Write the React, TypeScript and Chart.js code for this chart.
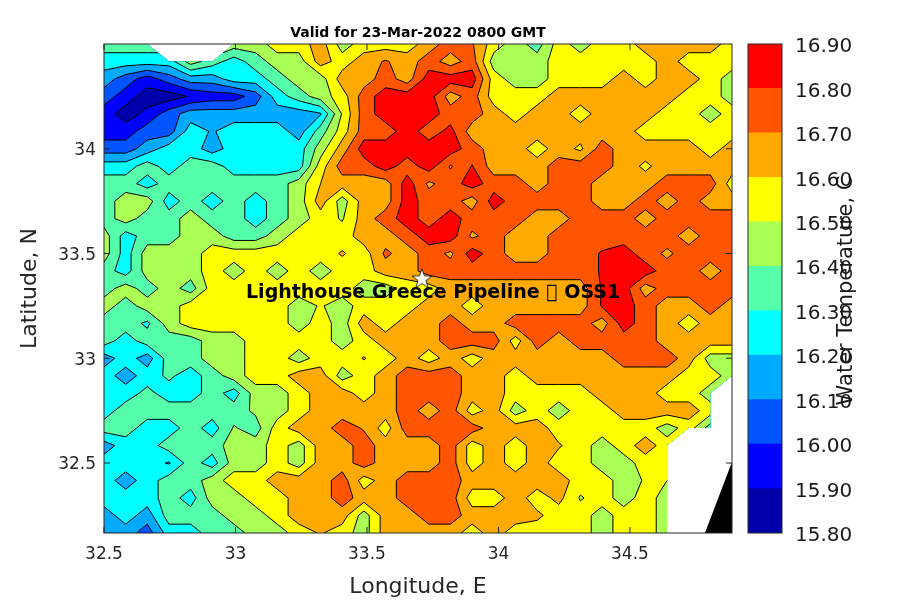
import React, { useEffect, useRef } from "react";
import { Chart, registerables } from "chart.js";

Chart.register(...registerables);

const FONT = "'DejaVu Sans'";
const titleText = "Valid for 23-Mar-2022 0800 GMT";
const siteLabel = "Lighthouse Greece Pipeline \uE000 OSS1";
const cbarLabel = "Water Temperature, C";
const xTicks = [32.5, 33, 33.5, 34, 34.5];
const yTicks = [32.5, 33, 33.5, 34];
const siteLon = 33.709;
const siteLat = 33.38;
const labelLon = 33.04;
const labelLat = 33.31;
const landLon = [34.785, 34.888, 34.888];
const landLat = [32.166, 32.505, 32.166];

const levels = [15.8, 15.9, 16.0, 16.1, 16.2, 16.3, 16.4, 16.5, 16.6, 16.7, 16.8, 16.9];
const bandColors = ["#0000aa", "#0000ff", "#0055ff", "#00aaff", "#00ffff", "#55ffaa", "#aaff55", "#ffff00", "#ffaa00", "#ff5500", "#ff0000"];

const lonGrid = [32.5, 32.5823, 32.6647, 32.747, 32.8294, 32.9117, 32.9941, 33.0764, 33.1588, 33.2411, 33.3234, 33.4058, 33.4881, 33.5705, 33.6528, 33.7352, 33.8175, 33.8999, 33.9822, 34.0646, 34.1469, 34.2292, 34.3116, 34.3939, 34.4763, 34.5586, 34.641, 34.7233, 34.8057, 34.888];
const latGrid = [34.5, 34.4167, 34.3333, 34.25, 34.1667, 34.0833, 34.0, 33.9167, 33.8333, 33.75, 33.6667, 33.5833, 33.5, 33.4167, 33.3333, 33.25, 33.1667, 33.0833, 33.0, 32.9167, 32.8333, 32.75, 32.6667, 32.5833, 32.5, 32.4167, 32.3333, 32.25, 32.1667];

const tempRows: (number | null)[][] = [
  [16.35,16.35,16.35,null,null,null,16.45,16.45,16.55,16.55,16.65,16.45,16.55,16.55,16.55,16.65,16.75,16.71,16.55,16.45,16.35,16.55,16.45,16.55,16.55,16.65,16.65,16.65,16.65,16.55],
  [16.25,16.25,16.25,16.25,16.45,16.35,16.25,16.35,16.45,16.45,16.65,16.55,16.65,16.71,16.65,16.75,16.65,16.75,16.45,16.45,16.45,16.55,16.55,16.55,16.55,16.55,16.65,16.55,16.55,16.55],
  [16.15,16.05,15.95,16.05,16.15,16.15,16.25,16.25,16.35,16.45,16.45,16.65,16.65,16.75,16.65,16.85,16.85,16.85,16.55,16.45,16.45,16.55,16.55,16.55,16.65,16.55,16.65,16.65,16.55,16.45],
  [16.05,15.95,15.85,15.85,15.91,15.95,15.95,16.05,16.25,16.35,16.45,16.55,16.75,16.85,16.85,16.85,16.65,16.75,16.55,16.55,16.55,16.65,16.65,16.65,16.65,16.65,16.65,16.55,16.55,16.45],
  [15.95,15.85,15.93,16.05,16.15,16.15,16.15,16.15,16.15,16.15,16.19,16.51,16.75,16.85,16.85,16.85,16.75,16.75,16.65,16.55,16.65,16.65,16.55,16.65,16.65,16.65,16.55,16.55,16.45,16.55],
  [15.95,15.95,16.05,16.05,16.25,16.19,16.25,16.25,16.25,16.15,16.35,16.55,16.75,16.75,16.85,16.75,16.83,16.65,16.65,16.65,16.65,16.65,16.65,16.65,16.65,16.55,16.55,16.55,16.55,16.55],
  [16.05,16.05,16.15,16.25,16.25,16.15,16.25,16.25,16.25,16.25,16.45,16.65,16.85,16.85,16.85,16.85,16.85,16.75,16.65,16.65,16.55,16.65,16.58,16.75,16.65,16.65,16.65,16.65,16.55,16.65],
  [16.25,16.25,16.35,16.25,16.35,16.35,16.25,16.25,16.25,16.25,16.55,16.75,16.75,16.85,16.75,16.85,16.69,16.805,16.65,16.65,16.65,16.75,16.75,16.75,16.65,16.58,16.65,16.65,16.65,16.65],
  [16.35,16.35,16.25,16.35,16.35,16.35,16.35,16.35,16.35,16.45,16.6,16.65,16.65,16.65,16.85,16.68,16.75,16.85,16.75,16.75,16.65,16.75,16.75,16.65,16.65,16.65,16.75,16.75,16.75,16.55],
  [16.35,16.45,16.45,16.25,16.35,16.25,16.35,16.25,16.35,16.45,16.65,16.45,16.65,16.65,16.85,16.75,16.75,16.65,16.85,16.75,16.75,16.75,16.75,16.65,16.65,16.75,16.65,16.75,16.65,16.65],
  [16.35,16.45,16.35,16.35,16.45,16.35,16.35,16.25,16.35,16.45,16.55,16.49,16.65,16.75,16.85,16.75,16.85,16.75,16.75,16.75,16.65,16.65,16.75,16.75,16.75,16.65,16.75,16.75,16.75,16.75],
  [16.45,16.25,16.35,16.35,16.45,16.45,16.35,16.35,16.45,16.55,16.55,16.55,16.65,16.65,16.75,16.85,16.85,16.68,16.75,16.65,16.65,16.75,16.75,16.75,16.75,16.75,16.75,16.65,16.75,16.75],
  [16.45,16.25,16.45,16.45,16.45,16.55,16.55,16.55,16.55,16.55,16.55,16.61,16.55,16.72,16.65,16.75,16.68,16.85,16.75,16.65,16.65,16.75,16.75,16.81,16.85,16.75,16.68,16.75,16.75,16.75],
  [16.35,16.25,16.45,16.45,16.45,16.55,16.45,16.55,16.45,16.55,16.45,16.55,16.55,16.65,16.65,16.75,16.75,16.75,16.75,16.75,16.75,16.75,16.75,16.81,16.85,16.85,16.75,16.75,16.65,16.75],
  [16.35,16.45,16.35,16.45,16.35,16.55,16.55,16.55,16.55,16.55,16.55,16.55,16.45,16.45,16.55,16.55,16.65,16.65,16.65,16.65,16.65,16.65,16.65,16.81,16.85,16.65,16.75,16.75,16.75,16.75],
  [16.45,16.35,16.45,16.45,16.55,16.55,16.55,16.55,16.55,16.45,16.51,16.45,16.55,16.55,16.55,16.65,16.65,16.55,16.65,16.65,16.65,16.65,16.65,16.81,16.85,16.75,16.65,16.65,16.75,16.65],
  [16.35,16.35,16.28,16.45,16.55,16.55,16.55,16.55,16.55,16.45,16.55,16.45,16.65,16.55,16.65,16.65,16.75,16.65,16.65,16.75,16.75,16.75,16.75,16.65,16.85,16.75,16.65,16.55,16.65,16.65],
  [16.35,16.25,16.35,16.35,16.35,16.45,16.45,16.55,16.55,16.55,16.55,16.45,16.55,16.65,16.65,16.65,16.75,16.75,16.75,16.55,16.75,16.65,16.75,16.75,16.75,16.75,16.65,16.65,16.65,16.65],
  [16.15,16.25,16.15,16.35,16.35,16.45,16.45,16.55,16.55,16.45,16.55,16.55,16.605,16.55,16.65,16.55,16.65,16.55,16.65,16.65,16.65,16.65,16.65,16.65,16.75,16.75,16.75,16.65,16.45,16.45],
  [16.25,16.15,16.25,16.32,16.25,16.35,16.45,16.55,16.55,16.65,16.65,16.45,16.55,16.65,16.75,16.75,16.75,16.65,16.65,16.55,16.65,16.65,16.65,16.65,16.65,16.65,16.65,16.55,16.55,16.45],
  [16.25,16.25,16.33,16.25,16.25,16.35,16.25,16.45,16.45,16.55,16.65,16.65,16.55,16.65,16.75,16.75,16.75,16.65,16.65,16.55,16.55,16.55,16.55,16.65,16.65,16.65,16.55,16.55,16.45,null],
  [16.25,16.35,16.35,16.35,16.35,16.35,16.35,16.42,16.45,16.55,16.65,16.65,16.65,16.65,16.75,16.65,16.75,16.55,16.65,16.45,16.55,16.45,16.55,16.55,16.65,16.65,16.65,16.65,16.55,null],
  [16.35,16.35,16.25,16.25,16.35,16.25,16.41,16.35,16.55,16.65,16.65,16.75,16.69,16.55,16.75,16.75,16.75,16.75,16.65,16.65,16.65,16.55,16.55,16.55,16.55,16.55,16.45,16.55,16.35,null],
  [16.15,16.25,16.25,16.35,16.35,16.35,16.45,16.45,16.55,16.45,16.65,16.65,16.75,16.65,16.65,16.65,16.75,16.55,16.65,16.55,16.65,16.61,16.55,16.45,16.55,16.65,16.55,null,null,null],
  [16.25,16.25,16.25,16.19,16.35,16.25,16.45,16.45,16.55,16.45,16.65,16.65,16.75,16.65,16.65,16.65,16.75,16.55,16.65,16.55,16.65,16.55,16.55,16.45,16.45,16.55,16.55,null,null,null],
  [16.25,16.15,16.25,16.35,16.35,16.45,16.55,16.55,16.65,16.65,16.65,16.75,16.55,16.65,16.75,16.75,16.75,16.65,16.65,16.65,16.65,16.65,16.55,16.55,16.45,16.51,16.5,null,null,null],
  [16.25,16.25,16.25,16.35,16.25,16.45,16.45,16.55,16.55,16.65,16.65,16.75,16.65,16.65,16.75,16.75,16.75,16.55,16.55,16.65,16.55,16.63,16.49,16.55,16.45,16.55,16.45,null,null,null],
  [16.15,16.25,16.15,16.35,16.35,16.35,16.45,16.45,16.55,16.65,16.65,16.65,16.45,16.65,16.65,16.75,16.75,16.65,16.65,16.65,16.62,16.55,16.55,16.45,16.55,16.55,16.45,null,null,null],
  [16.15,16.15,16.05,16.25,16.25,16.35,16.35,16.45,16.45,16.55,16.61,16.55,16.45,16.65,16.65,16.65,16.65,16.55,16.65,16.55,16.55,16.55,16.55,16.45,16.55,16.55,16.45,null,null,null],
];

type Node = { x: number; y: number; v: number };

function cross(a: Node, b: Node, level: number): Node {
  const t = (level - a.v) / (b.v - a.v);
  return { x: a.x + t * (b.x - a.x), y: a.y + t * (b.y - a.y), v: level };
}

function isSaddle(n: Node[], level: number): boolean {
  if (n.length !== 4) return false;
  const s = n.map((p) => p.v >= level);
  return s[0] === s[2] && s[1] === s[3] && s[0] !== s[1];
}

function connected(n: Node[], level: number): boolean {
  return (n[0].v + n[1].v + n[2].v + n[3].v) / 4 >= level - 1e-9;
}

function cellPolygons(nodes: Node[], level: number): Node[][] {
  if (isSaddle(nodes, level) && !connected(nodes, level)) {
    const polys: Node[][] = [];
    for (let i = 0; i < 4; i++) {
      if (nodes[i].v >= level) {
        const prev = nodes[(i + 3) % 4];
        const next = nodes[(i + 1) % 4];
        polys.push([cross(prev, nodes[i], level), nodes[i], cross(nodes[i], next, level)]);
      }
    }
    return polys;
  }
  const out: Node[] = [];
  for (let i = 0; i < nodes.length; i++) {
    const a = nodes[i];
    const b = nodes[(i + 1) % nodes.length];
    const aIn = a.v >= level;
    const bIn = b.v >= level;
    if (aIn) out.push(a);
    if (aIn !== bIn) out.push(cross(a, b, level));
  }
  return out.length >= 3 ? [out] : [];
}

function cellSegments(nodes: Node[], level: number): [Node, Node][] {
  if (isSaddle(nodes, level)) {
    const wantIn = !connected(nodes, level);
    const segs: [Node, Node][] = [];
    for (let i = 0; i < 4; i++) {
      if ((nodes[i].v >= level) === wantIn) {
        const prev = nodes[(i + 3) % 4];
        const next = nodes[(i + 1) % 4];
        segs.push([cross(prev, nodes[i], level), cross(nodes[i], next, level)]);
      }
    }
    return segs;
  }
  const pts: Node[] = [];
  for (let i = 0; i < nodes.length; i++) {
    const a = nodes[i];
    const b = nodes[(i + 1) % nodes.length];
    if ((a.v >= level) !== (b.v >= level)) pts.push(cross(a, b, level));
  }
  return pts.length === 2 ? [[pts[0], pts[1]]] : [];
}

const contourPlugin = {
  id: "contour",
  beforeDatasetsDraw(chart: any) {
    const { ctx, chartArea: area, scales } = chart;
    const cells: Node[][] = [];
    for (let r = 0; r < latGrid.length - 1; r++) {
      for (let c = 0; c < lonGrid.length - 1; c++) {
        const corners: [number, number][] = [[c, r], [c + 1, r], [c + 1, r + 1], [c, r + 1]];
        const nodes: Node[] = [];
        for (const [cc, rr] of corners) {
          const v = tempRows[rr][cc];
          if (v === null) continue;
          nodes.push({ x: scales.x.getPixelForValue(lonGrid[cc]), y: scales.y.getPixelForValue(latGrid[rr]), v });
        }
        if (nodes.length >= 3) cells.push(nodes);
      }
    }
    ctx.save();
    ctx.beginPath();
    ctx.rect(area.left, area.top, area.right - area.left, area.bottom - area.top);
    ctx.clip();
    bandColors.forEach((color, i) => {
      ctx.beginPath();
      for (const cell of cells) {
        for (const poly of cellPolygons(cell, levels[i])) {
          ctx.moveTo(poly[0].x, poly[0].y);
          for (let k = 1; k < poly.length; k++) ctx.lineTo(poly[k].x, poly[k].y);
          ctx.closePath();
        }
      }
      ctx.fillStyle = color;
      ctx.fill();
    });
    ctx.beginPath();
    for (let i = 1; i < bandColors.length; i++) {
      for (const cell of cells) {
        for (const [p, q] of cellSegments(cell, levels[i])) {
          ctx.moveTo(p.x, p.y);
          ctx.lineTo(q.x, q.y);
        }
      }
    }
    ctx.strokeStyle = "#000000";
    ctx.lineWidth = 1;
    ctx.lineJoin = "round";
    ctx.stroke();
    ctx.restore();
  },
  afterDatasetsDraw(chart: any) {
    const { ctx, chartArea: area, scales } = chart;
    ctx.save();
    ctx.font = `bold 19px ${FONT}`;
    ctx.fillStyle = "#000000";
    ctx.textAlign = "left";
    ctx.textBaseline = "middle";
    ctx.fillText(siteLabel, scales.x.getPixelForValue(labelLon), scales.y.getPixelForValue(labelLat));
    ctx.strokeStyle = "#262626";
    ctx.lineWidth = 1;
    ctx.strokeRect(area.left, area.top, area.right - area.left, area.bottom - area.top);
    ctx.beginPath();
    const len = 6;
    for (const v of xTicks) {
      const x = scales.x.getPixelForValue(v);
      ctx.moveTo(x, area.bottom);
      ctx.lineTo(x, area.bottom - len);
      ctx.moveTo(x, area.top);
      ctx.lineTo(x, area.top + len);
    }
    for (const v of yTicks) {
      const y = scales.y.getPixelForValue(v);
      ctx.moveTo(area.left, y);
      ctx.lineTo(area.left + len, y);
      ctx.moveTo(area.right, y);
      ctx.lineTo(area.right - len, y);
    }
    ctx.stroke();
    ctx.restore();
  },
};

const cbarPlugin = {
  id: "cbarFrame",
  afterDatasetsDraw(chart: any) {
    const { ctx, chartArea: area } = chart;
    ctx.save();
    ctx.strokeStyle = "#262626";
    ctx.lineWidth = 1;
    ctx.strokeRect(area.left, area.top, area.right - area.left, area.bottom - area.top);
    ctx.translate(847, (area.top + area.bottom) / 2 + 2);
    ctx.rotate(-Math.PI / 2);
    ctx.font = `21px ${FONT}`;
    ctx.fillStyle = "#1a1a1a";
    ctx.textAlign = "center";
    ctx.textBaseline = "middle";
    ctx.fillText(cbarLabel, 0, 0);
    ctx.restore();
  },
};

function makeStar(): HTMLCanvasElement {
  const c = document.createElement("canvas");
  c.width = 24;
  c.height = 24;
  const g = c.getContext("2d")!;
  g.beginPath();
  for (let i = 0; i < 10; i++) {
    const rad = i % 2 === 0 ? 10.5 : 4.2;
    const ang = -Math.PI / 2 + (i * Math.PI) / 5;
    const px = 12 + rad * Math.cos(ang);
    const py = 12.5 + rad * Math.sin(ang);
    if (i === 0) g.moveTo(px, py);
    else g.lineTo(px, py);
  }
  g.closePath();
  g.fillStyle = "#ffffff";
  g.fill();
  g.strokeStyle = "#000000";
  g.lineWidth = 0.8;
  g.stroke();
  return c;
}

const canvasStyle: React.CSSProperties = { position: "fixed", left: 0, top: 0, width: 900, height: 600 };

export default function App() {
  const mainRef = useRef<HTMLCanvasElement>(null);
  const barRef = useRef<HTMLCanvasElement>(null);

  useEffect(() => {
    const main = new Chart(mainRef.current!, {
      type: "scatter",
      data: {
        datasets: [
          {
            type: "line",
            data: landLon.map((x, i) => ({ x, y: landLat[i] })),
            backgroundColor: "#000000",
            borderColor: "#000000",
            borderWidth: 0,
            pointRadius: 0,
            fill: "start",
            tension: 0,
          },
          {
            data: [{ x: siteLon, y: siteLat }],
            pointStyle: makeStar(),
            pointRadius: 12,
          },
        ],
      } as any,
      options: {
        responsive: false,
        animation: false,
        devicePixelRatio: 1,
        layout: { padding: { left: 0, right: 168, top: 0, bottom: 0 } },
        plugins: {
          legend: { display: false },
          tooltip: { enabled: false },
          title: {
            display: true,
            text: titleText,
            fullSize: false,
            color: "#000000",
            font: { family: FONT, size: 14, weight: "bold", lineHeight: 1.2 },
            padding: { top: 24.6, bottom: 2.6 },
          },
        },
        scales: {
          x: {
            type: "linear",
            min: 32.5,
            max: 34.888,
            afterBuildTicks: (s: any) => { s.ticks = xTicks.map((value) => ({ value })); },
            afterFit: (s: any) => { s.height = 67; },
            grid: { display: false, drawTicks: false },
            border: { display: false },
            ticks: { color: "#262626", font: { family: FONT, size: 17 }, padding: 11, maxRotation: 0, autoSkip: false, callback: (v: any) => String(v) },
            title: { display: true, text: "Longitude, E", color: "#262626", font: { family: FONT, size: 22 }, padding: { top: 4, bottom: 0 } },
          },
          y: {
            type: "linear",
            min: 32.166,
            max: 34.5,
            afterBuildTicks: (s: any) => { s.ticks = yTicks.map((value) => ({ value })); },
            afterFit: (s: any) => { s.width = 104; },
            grid: { display: false, drawTicks: false },
            border: { display: false },
            ticks: { color: "#262626", font: { family: FONT, size: 17 }, padding: 8, labelOffset: 2, autoSkip: false, callback: (v: any) => String(v) },
            title: { display: true, text: "Latitude, N", color: "#262626", font: { family: FONT, size: 22 }, padding: { top: 17, bottom: 0 } },
          },
        },
      },
      plugins: [contourPlugin],
    } as any);

    const bar = new Chart(barRef.current!, {
      type: "bar",
      data: {
        labels: [""],
        datasets: bandColors.map((color, i) => ({
          data: [[levels[i], levels[i + 1]]],
          backgroundColor: color,
          borderWidth: 0,
          barPercentage: 1,
          categoryPercentage: 1,
          grouped: false,
        })),
      } as any,
      options: {
        responsive: false,
        animation: false,
        devicePixelRatio: 1,
        layout: { padding: { left: 748, right: 0, top: 44, bottom: 67 } },
        plugins: { legend: { display: false }, tooltip: { enabled: false } },
        scales: {
          x: { display: false },
          y: {
            position: "right",
            type: "linear",
            min: 15.8,
            max: 16.9,
            afterBuildTicks: (s: any) => { s.ticks = levels.map((value) => ({ value })); },
            afterFit: (s: any) => { s.width = 118; },
            grid: { display: false, drawTicks: false },
            border: { display: false },
            ticks: { color: "#1a1a1a", font: { family: FONT, size: 20 }, padding: 13, labelOffset: 3, autoSkip: false, callback: (v: any) => Number(v).toFixed(2) },
          },
        },
      },
      plugins: [cbarPlugin],
    } as any);

    return () => {
      main.destroy();
      bar.destroy();
    };
  }, []);

  return (
    <div>
      <canvas ref={mainRef} width={900} height={600} style={canvasStyle} />
      <canvas ref={barRef} width={900} height={600} style={canvasStyle} />
    </div>
  );
}
